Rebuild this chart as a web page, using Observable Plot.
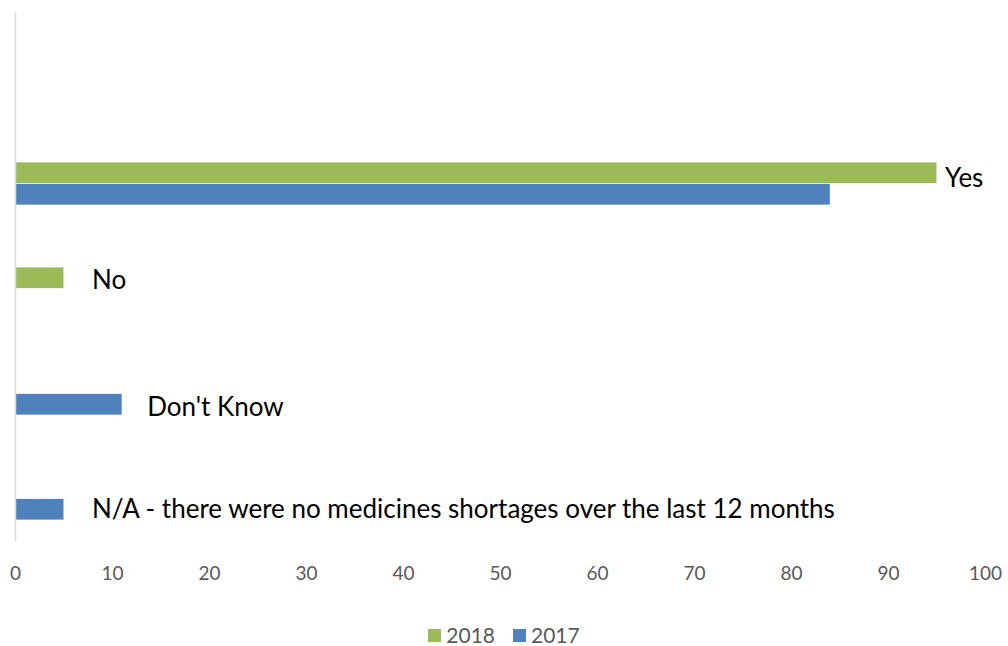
<!DOCTYPE html>
<html>
<head>
<meta charset="utf-8">
<script src="https://cdn.jsdelivr.net/npm/d3@7"></script>
<script src="https://cdn.jsdelivr.net/npm/@observablehq/plot@0.6"></script>
<style>
  html, body { margin: 0; padding: 0; background: #fff; }
  #chart { width: 1008px; }
  .legend { display: flex; justify-content: center; align-items: center; gap: 18px;
            margin-top: 25px; font-family: Lato, "Open Sans", sans-serif; font-size: 21px;
            color: #595959; line-height: 20px; }
  .legend span.sw { display: inline-block; width: 13px; height: 13px; margin-right: 5px; }
  .legend .item { display: flex; align-items: center; }
</style>
</head>
<body>
<div id="chart"></div>
<script>
// Survey answers: did the pharmacy experience medicines shortages?
const categories = [
  "Yes",
  "No",
  "Don't Know",
  "N/A - there were no medicines shortages over the last 12 months"
];
const values2018 = [95, 5, 0, 0];
const values2017 = [84, 0, 11, 5];
const seriesNames = ["2018", "2017"];
const xTicks = [0, 10, 20, 30, 40, 50, 60, 70, 80, 90, 100];

const colors = { "2018": "#9BBB59", "2017": "#4F81BD" };

const rows2018 = categories.map((c, i) => ({ category: c, value: values2018[i] }));
const rows2017 = categories.map((c, i) => ({ category: c, value: values2017[i] }));
const labelRows = categories.map((c, i) => ({ category: c, value: Math.max(values2018[i], values2017[i]) }));

// label nudges (horizontal gap after the bar end, vertical shift from group centre)
const nudge = {
  "Yes": [8, -5.5],
  "No": [28, -8],
  "Don't Know": [25, 13.5],
  "N/A - there were no medicines shortages over the last 12 months": [28, 11]
};

const barH = 21.5;
const step = 105.75;

const plot = Plot.plot({
  width: 1008,
  height: 600,
  marginTop: 12,
  marginBottom: 59,
  marginLeft: 15,
  marginRight: 23,
  style: { fontFamily: "Lato, 'Open Sans', sans-serif", background: "#fff", overflow: "visible" },
  x: { domain: [0, 100] },
  y: { domain: categories, range: [129, 552], padding: 0, axis: null },
  marks: [
    Plot.barX(rows2018, {
      x: "value", y: "category", fill: colors["2018"],
      insetTop: step / 2 - barH, insetBottom: step / 2
    }),
    Plot.barX(rows2017, {
      x: "value", y: "category", fill: colors["2017"],
      insetTop: step / 2, insetBottom: step / 2 - barH
    }),
    Plot.ruleX([0], { stroke: "#D9D9D9", strokeWidth: 1.5 }),
    Plot.axisX({
      ticks: xTicks, tickSize: 0, tickPadding: 25, fontSize: 19,
      fill: "#595959", tickFormat: d => String(d), label: null
    }),
    ...labelRows.map(r => Plot.text([r], {
      x: "value", y: "category", text: "category",
      textAnchor: "start", lineAnchor: "middle",
      dx: nudge[r.category][0], dy: nudge[r.category][1],
      fontSize: 26, fill: "#000"
    }))
  ]
});

document.getElementById("chart").appendChild(plot);

// legend below the chart
const legend = document.createElement("div");
legend.className = "legend";
seriesNames.forEach(name => {
  const item = document.createElement("div");
  item.className = "item";
  const sw = document.createElement("span");
  sw.className = "sw";
  sw.style.background = colors[name];
  item.appendChild(sw);
  item.appendChild(document.createTextNode(name));
  legend.appendChild(item);
});
document.getElementById("chart").appendChild(legend);
</script>
</body>
</html>
